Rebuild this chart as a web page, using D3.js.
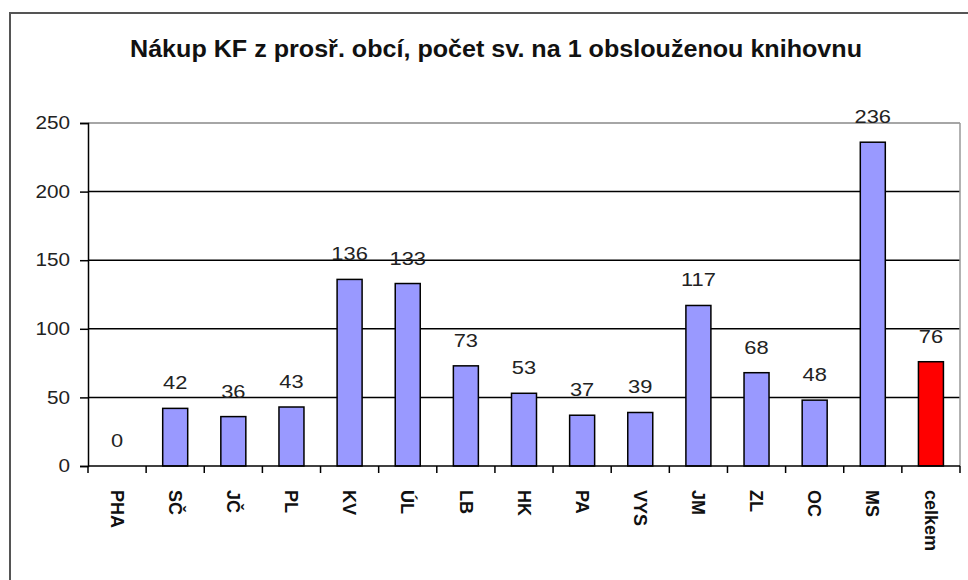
<!DOCTYPE html>
<html lang="cs">
<head>
  <meta charset="UTF-8">
  <title>Nákup KF</title>
  <style>
    body { margin: 0; background: #fff; }
    svg { display: block; font-family: Arial, "Liberation Sans", sans-serif; }
  </style>
</head>
<body>
  <div id="graph"></div>
  <script src="https://cdn.jsdelivr.net/npm/d3@7"></script>
  <script>
    var regions = ['PHA', 'SČ', 'JČ', 'PL', 'KV', 'ÚL', 'LB', 'HK', 'PA', 'VYS', 'JM', 'ZL', 'OC', 'MS', 'celkem'];
    var values = [0, 42, 36, 43, 136, 133, 73, 53, 37, 39, 117, 68, 48, 236, 76];
    var yTicks = [0, 50, 100, 150, 200, 250];
    var title = 'Nákup KF z prosř. obcí, počet sv. na 1 obslouženou knihovnu';

    var width = 968, height = 580;
    var plot = { left: 88, right: 960, top: 123, bottom: 466 };
    var stretch = 1.15; // the original text looks a bit wider than plain Arial

    var svg = d3.select('#graph').append('svg')
      .attr('width', width)
      .attr('height', height);

    // stretch horizontal text so it matches the wide look of the original
    function widen(sel) {
      sel.each(function() {
        var len = this.getComputedTextLength();
        d3.select(this)
          .attr('textLength', len * stretch)
          .attr('lengthAdjust', 'spacingAndGlyphs');
      });
    }

    // outer frame of the chart
    svg.append('rect')
      .attr('x', 10).attr('y', 13)
      .attr('width', width + 20).attr('height', height + 20)
      .attr('fill', 'none')
      .attr('stroke', '#555')
      .attr('stroke-width', 2);

    svg.append('text')
      .attr('x', 496).attr('y', 57)
      .attr('text-anchor', 'middle')
      .attr('font-size', 23)
      .attr('font-weight', 'bold')
      .attr('fill', '#111')
      .attr('textLength', 732)
      .attr('lengthAdjust', 'spacingAndGlyphs')
      .text(title);

    var x = d3.scaleBand()
      .domain(regions)
      .range([plot.left, plot.right])
      .paddingInner(0.57)
      .paddingOuter(0.285);

    var y = d3.scaleLinear()
      .domain([0, 250])
      .range([plot.bottom, plot.top]);

    // gridlines
    svg.append('g')
      .selectAll('line')
      .data(yTicks.slice(1))
      .join('line')
      .attr('x1', plot.left).attr('x2', plot.right)
      .attr('y1', function(d) { return y(d); })
      .attr('y2', function(d) { return y(d); })
      .attr('stroke', function(d) { return d === 250 ? '#888' : '#000'; })
      .attr('stroke-width', 1.5);

    // right border of plot area
    svg.append('line')
      .attr('x1', plot.right).attr('x2', plot.right)
      .attr('y1', plot.top).attr('y2', plot.bottom)
      .attr('stroke', '#999')
      .attr('stroke-width', 1.5);

    // bars
    svg.append('g')
      .selectAll('rect')
      .data(values)
      .join('rect')
      .attr('x', function(d, i) { return x(regions[i]); })
      .attr('width', x.bandwidth())
      .attr('y', function(d) { return y(d); })
      .attr('height', function(d) { return y(0) - y(d); })
      .attr('fill', function(d, i) { return regions[i] === 'celkem' ? '#ff0000' : '#9999ff'; })
      .attr('stroke', '#000')
      .attr('stroke-width', function(d) { return d > 0 ? 1.5 : 0; });

    // value labels
    svg.append('g')
      .selectAll('text')
      .data(values)
      .join('text')
      .attr('x', function(d, i) { return x(regions[i]) + x.bandwidth() / 2; })
      .attr('y', function(d) { return y(d) - 19; })
      .attr('text-anchor', 'middle')
      .attr('font-size', 19)
      .attr('fill', '#222')
      .text(function(d) { return d; })
      .call(widen);

    // y axis
    var yAxis = svg.append('g')
      .attr('transform', 'translate(' + plot.left + ',0)')
      .call(d3.axisLeft(y).tickValues(yTicks).tickSize(8).tickPadding(10));
    yAxis.select('.domain').attr('stroke', '#000').attr('stroke-width', 1.5);
    yAxis.selectAll('.tick line').attr('stroke', '#000').attr('stroke-width', 1.5);
    yAxis.selectAll('.tick text')
      .attr('font-size', 18)
      .attr('font-family', 'Arial, "Liberation Sans", sans-serif')
      .attr('fill', '#222')
      .call(widen);

    // x axis with ticks between categories
    var tickPos = d3.range(regions.length + 1).map(function(i) { return plot.left + i * (plot.right - plot.left) / regions.length; });
    var xAxis = svg.append('g');
    xAxis.append('line')
      .attr('x1', plot.left).attr('x2', plot.right)
      .attr('y1', plot.bottom).attr('y2', plot.bottom)
      .attr('stroke', '#000').attr('stroke-width', 1.5);
    xAxis.selectAll('line.tick')
      .data(tickPos)
      .join('line')
      .attr('class', 'tick')
      .attr('x1', function(d) { return d; }).attr('x2', function(d) { return d; })
      .attr('y1', plot.bottom).attr('y2', plot.bottom + 7)
      .attr('stroke', '#000').attr('stroke-width', 1.5);

    xAxis.selectAll('text')
      .data(regions)
      .join('text')
      .attr('transform', function(d) {
        return 'translate(' + (x(d) + x.bandwidth() / 2) + ',' + (plot.bottom + 24) + ') rotate(90)';
      })
      .attr('dy', '0.35em')
      .attr('font-size', 18)
      .attr('font-weight', 'bold')
      .attr('fill', '#111')
      .text(function(d) { return d; });
  </script>
</body>
</html>
